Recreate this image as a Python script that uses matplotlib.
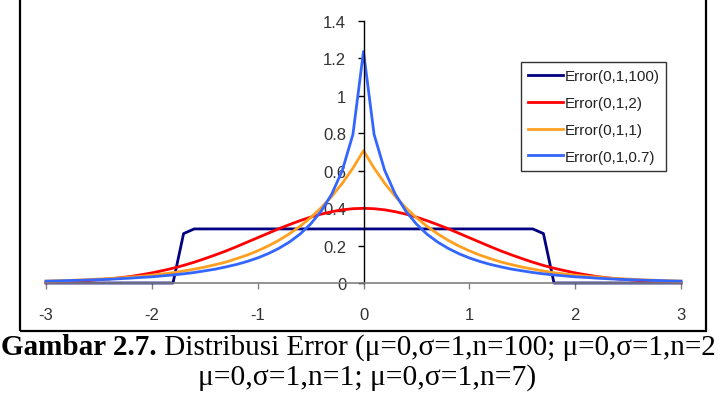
# -*- coding: utf-8 -*-
import numpy as np
import matplotlib
matplotlib.use("Agg")
import matplotlib.pyplot as plt
from matplotlib.patches import Rectangle

# x positions (step 0.1) and density values
x = [-3.0, -2.9, -2.8, -2.7, -2.6, -2.5, -2.4, -2.3, -2.2, -2.1,
     -2.0, -1.9, -1.8, -1.7, -1.6, -1.5, -1.4, -1.3, -1.2, -1.1,
     -1.0, -0.9, -0.8, -0.7, -0.6, -0.5, -0.4, -0.3, -0.2, -0.1,
     0.0,
     0.1, 0.2, 0.3, 0.4, 0.5, 0.6, 0.7, 0.8, 0.9, 1.0,
     1.1, 1.2, 1.3, 1.4, 1.5, 1.6, 1.7, 1.8, 1.9, 2.0,
     2.1, 2.2, 2.3, 2.4, 2.5, 2.6, 2.7, 2.8, 2.9, 3.0]

err_100 = [0, 0, 0, 0, 0, 0, 0, 0, 0, 0,
           0, 0, 0, 0.264, 0.289, 0.289, 0.289, 0.289, 0.289, 0.289,
           0.289, 0.289, 0.289, 0.289, 0.289, 0.289, 0.289, 0.289, 0.289, 0.289,
           0.289,
           0.289, 0.289, 0.289, 0.289, 0.289, 0.289, 0.289, 0.289, 0.289, 0.289,
           0.289, 0.289, 0.289, 0.289, 0.289, 0.289, 0.264, 0, 0, 0,
           0, 0, 0, 0, 0, 0, 0, 0, 0, 0]

err_2 = [0.004, 0.006, 0.008, 0.010, 0.014, 0.018, 0.022, 0.028, 0.035, 0.044,
         0.054, 0.066, 0.079, 0.094, 0.111, 0.130, 0.150, 0.171, 0.194, 0.218,
         0.242, 0.266, 0.290, 0.312, 0.333, 0.352, 0.368, 0.381, 0.391, 0.397,
         0.399,
         0.397, 0.391, 0.381, 0.368, 0.352, 0.333, 0.312, 0.290, 0.266, 0.242,
         0.218, 0.194, 0.171, 0.150, 0.130, 0.111, 0.094, 0.079, 0.066, 0.054,
         0.044, 0.035, 0.028, 0.022, 0.018, 0.014, 0.010, 0.008, 0.006, 0.004]

err_1 = [0.010, 0.012, 0.013, 0.016, 0.018, 0.021, 0.024, 0.027, 0.032, 0.036,
         0.042, 0.048, 0.055, 0.064, 0.074, 0.085, 0.098, 0.112, 0.130, 0.149,
         0.172, 0.198, 0.228, 0.263, 0.303, 0.349, 0.402, 0.463, 0.533, 0.614,
         0.707,
         0.614, 0.533, 0.463, 0.402, 0.349, 0.303, 0.263, 0.228, 0.198, 0.172,
         0.149, 0.130, 0.112, 0.098, 0.085, 0.074, 0.064, 0.055, 0.048, 0.042,
         0.036, 0.032, 0.027, 0.024, 0.021, 0.018, 0.016, 0.013, 0.012, 0.010]

err_07 = [0.010, 0.011, 0.013, 0.014, 0.016, 0.018, 0.020, 0.023, 0.026, 0.030,
          0.033, 0.038, 0.043, 0.049, 0.056, 0.065, 0.074, 0.086, 0.099, 0.115,
          0.134, 0.157, 0.185, 0.219, 0.261, 0.315, 0.384, 0.475, 0.602, 0.794,
          1.237,
          0.794, 0.602, 0.475, 0.384, 0.315, 0.261, 0.219, 0.185, 0.157, 0.134,
          0.115, 0.099, 0.086, 0.074, 0.065, 0.056, 0.049, 0.043, 0.038, 0.033,
          0.030, 0.026, 0.023, 0.020, 0.018, 0.016, 0.014, 0.013, 0.011, 0.010]

labels = ['Error(0,1,100)', 'Error(0,1,2)', 'Error(0,1,1)', 'Error(0,1,0.7)']
colors = ['#000080', '#FF0000', '#FFA020', '#3366FF']

xticks = [-3, -2, -1, 0, 1, 2, 3]
xticklabels = ['-3', '-2', '-1', '0', '1', '2', '3']
yticks = [0, 0.2, 0.4, 0.6, 0.8, 1.0, 1.2, 1.4]
yticklabels = ['0', '0.2', '0.4', '0.6', '0.8', '1', '1.2', '1.4']

caption1a = 'Gambar 2.7.'
caption1b = ' Distribusi Error (\u03bc=0,\u03c3=1,n=100; \u03bc=0,\u03c3=1,n=2'
caption2 = '\u03bc=0,\u03c3=1,n=1; \u03bc=0,\u03c3=1,n=7)'

W, H = 725, 406
plt.rcParams['font.family'] = ['Liberation Sans', 'DejaVu Sans']

fig = plt.figure(figsize=(W / 100, H / 100), dpi=100)
ax = fig.add_axes([46 / W, (H - 284) / H, 635 / W, 262 / H])

series = [err_100, err_2, err_1, err_07]
for ys, lab, c in zip(series, labels, colors):
    ax.plot(x, ys, color=c, lw=2.0, label=lab, clip_on=False)

ax.set_xlim(-3, 3)
ax.set_ylim(0, 1.4)
ax.patch.set_visible(False)

for s in ['top', 'right']:
    ax.spines[s].set_visible(False)
ax.spines['left'].set_position(('data', 0))
ax.spines['left'].set_color('black')
ax.spines['left'].set_linewidth(1.0)
ax.spines['bottom'].set_color('#808080')
ax.spines['bottom'].set_linewidth(1.2)

ax.set_xticks(xticks)
ax.set_xticklabels(xticklabels)
ax.set_yticks(yticks)
ax.set_yticklabels(yticklabels)
ax.tick_params(axis='x', direction='out', length=4.5, width=1.0, color='#808080',
               pad=13, labelsize=12, labelcolor='#333333')
ax.tick_params(axis='y', direction='out', length=4.5, width=1.0, color='black',
               pad=8, labelsize=12, labelcolor='#333333')

leg = fig.legend(loc='upper left', bbox_to_anchor=(521 / W, (H - 63) / H),
                 borderaxespad=0, fontsize=11, frameon=True, fancybox=False,
                 edgecolor='black', handlelength=2.3, handletextpad=0.1,
                 labelspacing=0.85, borderpad=0.45)
leg.get_frame().set_linewidth(1.0)
for t in leg.get_texts():
    t.set_color('#222222')

# outer chart frame
fig.patches.append(Rectangle((20 / W, (H - 332) / H), 686 / W, 1.05,
                             transform=fig.transFigure, fill=False,
                             edgecolor='black', lw=1.6, clip_on=False))

# caption
t1 = fig.text(1 / W, (H - 355) / H, caption1a, family='Liberation Serif',
              fontweight='bold', size=21.0, ha='left', va='baseline')
fig.canvas.draw()
bb = t1.get_window_extent(renderer=fig.canvas.get_renderer())
fig.text(bb.x1 / W, (H - 355) / H, caption1b, family='Liberation Serif',
         size=21.0, ha='left', va='baseline')
fig.text(366.7 / W, (H - 385) / H, caption2, family='Liberation Serif',
         size=21.3, ha='center', va='baseline')

fig.savefig('out.png', dpi=100)
